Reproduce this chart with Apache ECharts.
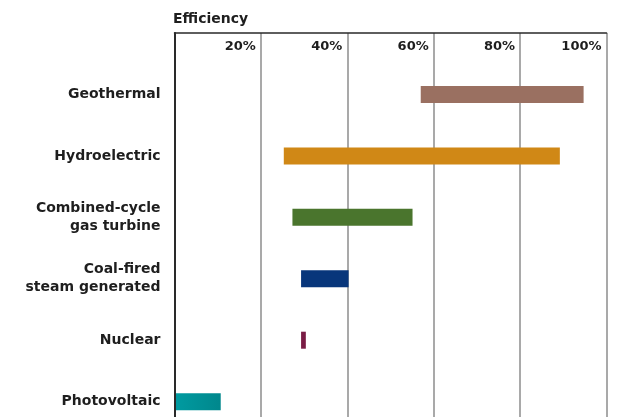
<!DOCTYPE html>
<html>
<head>
<meta charset="utf-8">
<script src="https://cdn.jsdelivr.net/npm/echarts@6/dist/echarts.min.js"></script>
<style>
  html, body { margin: 0; padding: 0; background: #fff; }
  #chart { width: 621px; height: 417px; }
</style>
</head>
<body>
<div id="chart"></div>
<script>
// categories, top to bottom
const categories = ['Geothermal', 'Hydroelectric', 'Combined-cycle\ngas turbine', 'Coal-fired\nsteam generated', 'Nuclear', 'Photovoltaic']
// efficiency range, percent
const lowValues = [57, 25.3, 27.3, 29.3, 29.3, 0]
const highValues = [94.7, 89.2, 55.1, 40.3, 30.4, 10.7]
const xTicks = [0, 20, 40, 60, 80, 100]

const colors = [
  '#9a7061',
  '#d08816',
  '#4a752d',
  '#08367b',
  '#7a1c45',
  {
    type: 'linear', x: 0, y: 0, x2: 1, y2: 0,
    colorStops: [
      { offset: 0, color: '#009ba1' },
      { offset: 1, color: '#00878c' }
    ]
  }
]

const textColor = '#1e1e1e'
const fontFamily = 'DejaVu Sans'

const chart = echarts.init(document.getElementById('chart'))

chart.setOption({
  animation: false,
  backgroundColor: '#fff',
  title: {
    text: 'Efficiency',
    left: 168,
    top: 7,
    textStyle: {
      color: textColor,
      fontFamily: fontFamily,
      fontWeight: 'bold',
      fontSize: 14
    }
  },
  grid: {
    left: 174.5,
    top: 33,
    width: 432,
    bottom: 0
  },
  xAxis: {
    type: 'value',
    position: 'top',
    min: xTicks[0],
    max: xTicks[xTicks.length - 1],
    interval: 20,
    axisLine: {
      show: true,
      onZero: false,
      lineStyle: { color: '#2a2a2a', width: 1.5 }
    },
    axisTick: { show: false },
    axisLabel: {
      inside: true,
      margin: 7,
      align: 'right',
      padding: [0, 5, 0, 0],
      color: textColor,
      fontFamily: fontFamily,
      fontWeight: 'bold',
      fontSize: 13,
      formatter: v => (v === 0 ? '' : v + '%')
    },
    splitLine: {
      show: true,
      lineStyle: { color: '#8c8c8c', width: 1.5 }
    }
  },
  yAxis: {
    type: 'value',
    inverse: true,
    min: -1,
    max: 5.25,
    interval: 1,
    z: 5,
    axisLine: {
      show: true,
      onZero: false,
      lineStyle: { color: '#2a2a2a', width: 2 }
    },
    axisTick: { show: false },
    splitLine: { show: false },
    axisLabel: {
      margin: 14,
      color: textColor,
      fontFamily: fontFamily,
      fontWeight: 'bold',
      fontSize: 14,
      lineHeight: 18,
      align: 'right',
      showMaxLabel: false,
      formatter: v => categories[v] || ''
    }
  },
  series: [
    {
      type: 'custom',
      encode: { x: [1, 2], y: 0 },
      data: categories.map((c, i) => [i, lowValues[i], highValues[i]]),
      renderItem: function (params, api) {
        const y = api.value(0)
        const start = api.coord([api.value(1), y])
        const end = api.coord([api.value(2), y])
        const h = 17
        return {
          type: 'rect',
          shape: {
            x: start[0],
            y: start[1] - h / 2,
            width: end[0] - start[0],
            height: h
          },
          style: { fill: colors[params.dataIndex] }
        }
      }
    }
  ]
})
</script>
</body>
</html>
